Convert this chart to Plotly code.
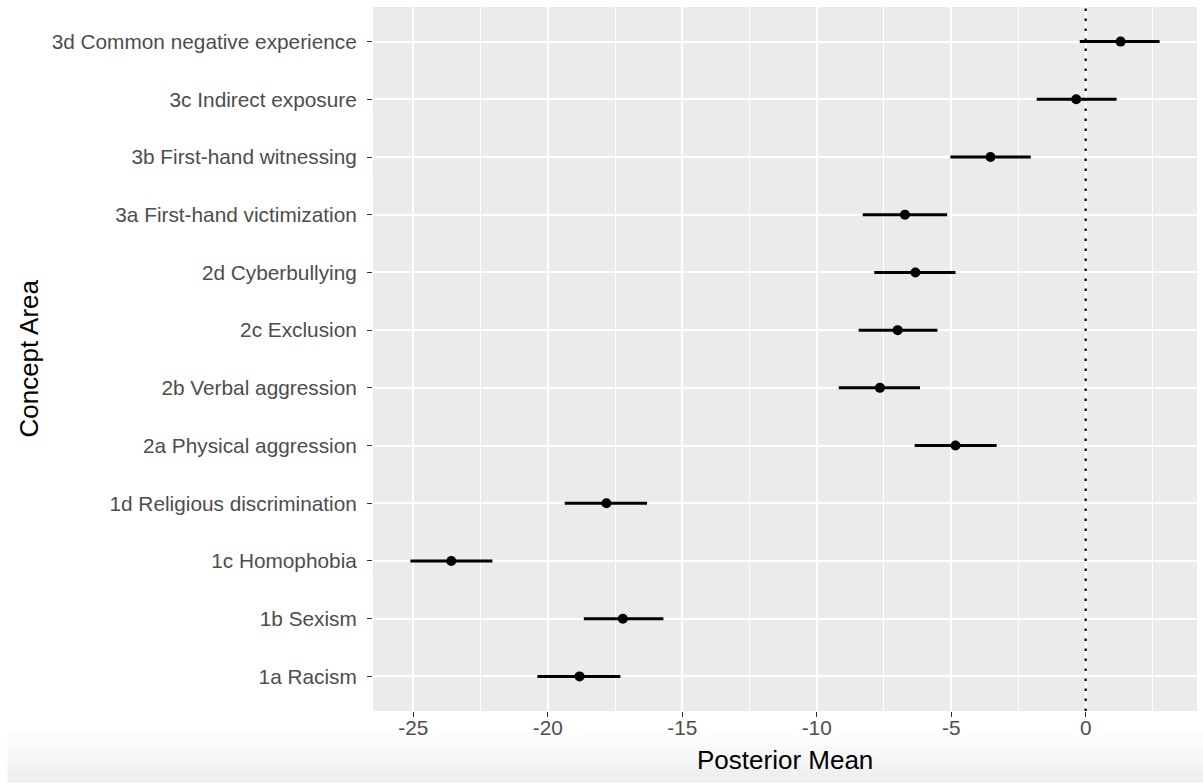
import plotly.graph_objects as go

categories = [
    "1a Racism", "1b Sexism", "1c Homophobia", "1d Religious discrimination",
    "2a Physical aggression", "2b Verbal aggression", "2c Exclusion", "2d Cyberbullying",
    "3a First-hand victimization", "3b First-hand witnessing", "3c Indirect exposure",
    "3d Common negative experience",
]
means = [-18.82, -17.21, -23.59, -17.82, -4.84, -7.65, -6.99, -6.33, -6.72, -3.54, -0.35, 1.30]
lower = [-20.39, -18.66, -25.11, -19.37, -6.36, -9.18, -8.44, -7.86, -8.29, -5.03, -1.82, -0.22]
upper = [-17.30, -15.70, -22.06, -16.31, -3.31, -6.16, -5.51, -4.84, -5.15, -2.04, 1.15, 2.75]
x_ticks = [-25, -20, -15, -10, -5, 0]

W, H = 1203, 783
L, R, T, B = 372.6, 6, 6.5, 71.5
pw, ph = W - L - R, H - T - B

fig = go.Figure()
fig.add_trace(go.Scatter(
    x=means, y=categories, mode="markers",
    marker=dict(color="black", size=10),
    error_x=dict(type="data", symmetric=False,
                 array=[u - m for u, m in zip(upper, means)],
                 arrayminus=[m - l for m, l in zip(means, lower)],
                 width=0, thickness=3, color="black"),
    showlegend=False,
))

fig.add_vline(x=0, line=dict(color="black", width=2.2, dash="2.5px,7.5px"))

# bottom gradient of the screenshot
n = 12
for i in range(n):
    y0 = 733 + i * (50 / n)
    y1 = 733 + (i + 1) * (50 / n)
    g = int(255 - (255 - 238) * (i + 1) / n)
    fig.add_shape(type="rect", xref="paper", yref="paper",
                  x0=(7 - L) / pw, x1=(W - L) / pw,
                  y0=(H - B - y1) / ph, y1=(H - B - y0) / ph,
                  line=dict(width=0), fillcolor=f"rgb({g},{g},{g})", layer="below")

font = "Liberation Sans, Arial, Helvetica, sans-serif"
fig.update_layout(
    width=W, height=H,
    margin=dict(l=L, r=R, t=T, b=B, autoexpand=False),
    paper_bgcolor="white", plot_bgcolor="#EBEBEB",
    font=dict(family=font, color="#4D4D4D", size=20),
    xaxis=dict(
        range=[-26.5, 4.14], tickmode="array", tickvals=x_ticks,
        ticktext=[str(v) for v in x_ticks],
        showgrid=True, gridcolor="white", gridwidth=2.2,
        minor=dict(tickmode="array", tickvals=[-22.5, -17.5, -12.5, -7.5, -2.5, 2.5],
                   showgrid=True, gridcolor="white", gridwidth=1.1, ticks=""),
        zeroline=False, showline=False,
        ticks="outside", ticklen=5, tickwidth=1.1, tickcolor="#333333",
        ticklabelstandoff=-7,
        tickfont=dict(size=20.8, color="#4D4D4D"),
    ),
    yaxis=dict(
        type="category", categoryorder="array", categoryarray=categories,
        range=[-0.6, 11.6],
        showgrid=True, gridcolor="white", gridwidth=2.2,
        zeroline=False, showline=False,
        ticks="outside", ticklen=5, tickwidth=1.1, tickcolor="#333333",
        ticklabelstandoff=6,
        tickfont=dict(size=20.8, color="#4D4D4D"),
    ),
    annotations=[
        dict(text="Posterior Mean", xref="paper", yref="paper",
             x=0.5, y=(H - B - 761) / ph, xanchor="center", yanchor="middle",
             showarrow=False, font=dict(size=26, color="black", family=font)),
        dict(text="Concept Area", xref="paper", yref="paper",
             x=(28 - L) / pw, y=0.5, xanchor="center", yanchor="middle", textangle=-90,
             showarrow=False, font=dict(size=26, color="black", family=font)),
    ],
)

fig.write_html("out.html", config={"displayModeBar": False},
               post_script="document.body.style.margin='0';document.body.style.overflow='hidden';")
